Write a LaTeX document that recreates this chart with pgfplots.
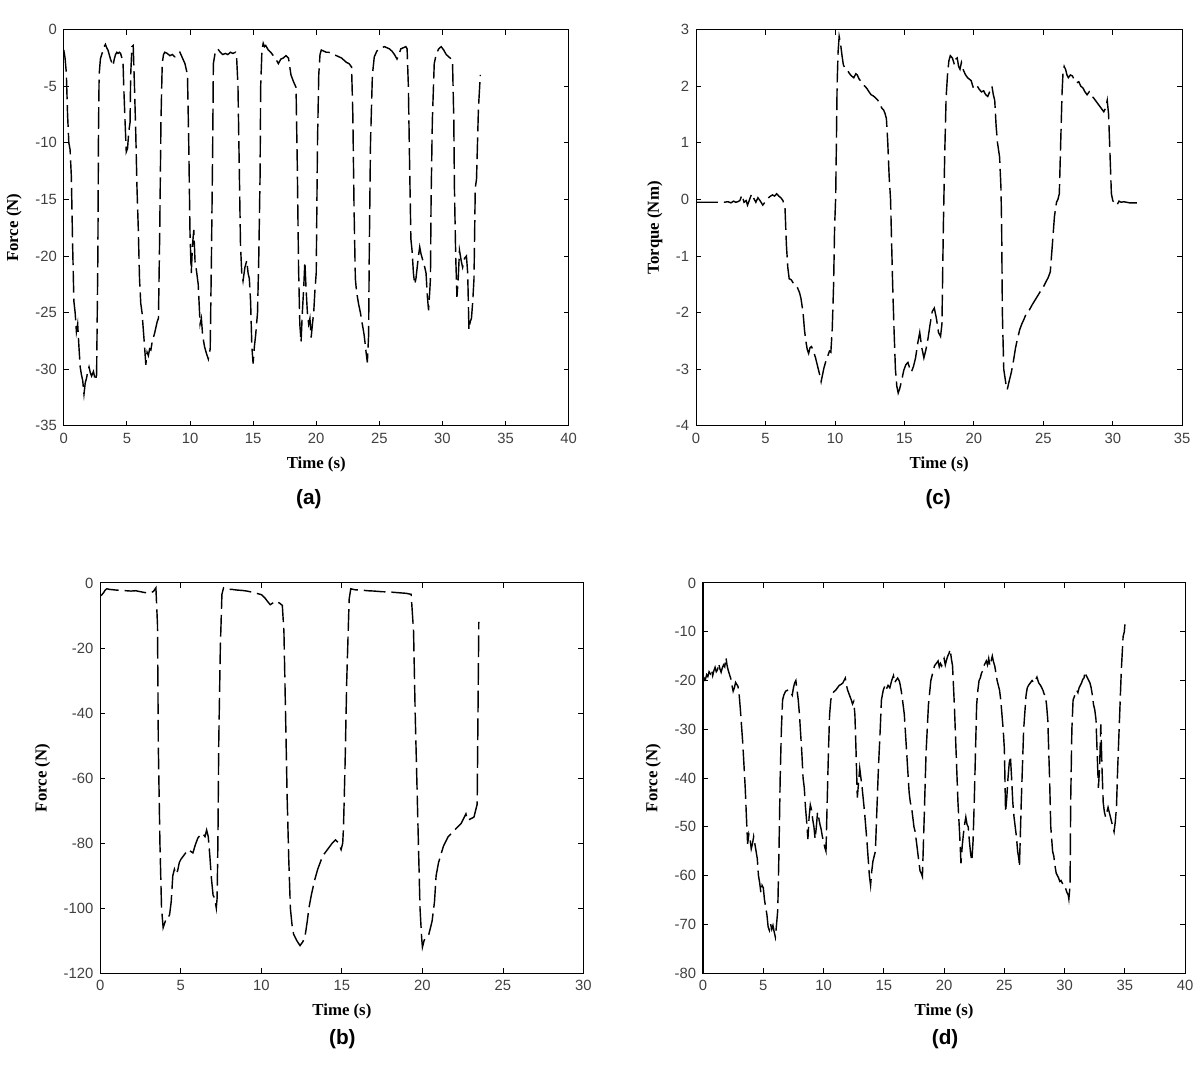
\documentclass[border=0pt]{standalone}
\usepackage{fontspec}
\setmainfont{Liberation Serif}
\newfontfamily\arial{Liberation Sans}
\usepackage{pgfplots}
\pgfplotsset{compat=1.18}

\pgfplotsset{
  matfig/.style={
    scale only axis,
    anchor=south west,
    axis line style={line width=0.55pt},
    tick style={black, line width=0.45pt},
    major tick length=2.6pt,
    tick label style={font=\arial\fontsize{7.5}{9}\selectfont, text=black!75},
    /pgf/number format/assume math mode=true,
    label style={font=\bfseries\fontsize{8.5}{10}\selectfont},
    xlabel={Time (s)},
  },
  sig/.style={black, no markers, line width=0.72pt, dash pattern=on 11pt off 3pt},
}

\begin{document}
\begin{tikzpicture}
\path (0pt,0pt) rectangle (600pt,539pt);

% (a)
\begin{axis}[matfig, at={(27.5pt,323.5pt)}, width=255.5pt, height=200.5pt,
  xmin=0, xmax=40, ymin=-35, ymax=0,
  xtick={0,5,...,40}, ytick={-35,-30,...,0},
  ylabel={Force (N)}]
\addplot[sig] coordinates {
(0,-1.8)(0.1,-2.5)(0.2,-3.8)(0.3,-7.5)(0.4,-10)(0.5,-10.6)(0.6,-13)(0.7,-19)(0.8,-24)(0.9,-25)
(1.0,-26.7)(1.1,-26)(1.2,-28)(1.3,-29.8)(1.4,-30.5)(1.5,-31)(1.6,-32.2)(1.7,-31.2)(1.8,-30.8)(1.9,-30.2)
(2.0,-29.8)(2.1,-30.3)(2.2,-30.6)(2.35,-30.2)(2.5,-31)(2.6,-30.5)(2.7,-20)(2.75,-9)(2.8,-4)(2.9,-2.6)
(3.0,-2.2)(3.1,-1.9)(3.2,-1.5)(3.3,-1.3)(3.4,-1.6)(3.5,-1.8)(3.6,-2.2)(3.7,-2.6)(3.8,-2.9)(3.9,-3.2)
(4.0,-2.6)(4.1,-2.2)(4.2,-2.0)(4.3,-2.1)(4.4,-2.0)(4.5,-2.1)(4.6,-2.5)(4.7,-3.1)(4.75,-5)(4.85,-8)
(4.95,-10.8)(5.05,-10.5)(5.15,-9)(5.25,-8.2)(5.3,-4)(5.4,-1.5)(5.5,-1.4)(5.6,-5)(5.7,-9)(5.8,-14)
(5.9,-17.5)(6.0,-22)(6.1,-24.2)(6.2,-25)(6.3,-26.5)(6.4,-28)(6.5,-29.6)(6.6,-28.5)(6.7,-28.8)(6.8,-28.2)
(6.9,-28.3)(7.0,-27.6)(7.1,-27.2)(7.2,-26.8)(7.3,-26.3)(7.4,-25.8)(7.5,-25.5)(7.6,-18)(7.7,-8)(7.8,-3)
(7.9,-2.2)(8.0,-2.0)(8.2,-2.1)(8.4,-2.3)(8.6,-2.2)(8.8,-2.4)(9.0,-2.3)(9.2,-2.0)(9.4,-2.5)(9.6,-3.0)
(9.8,-4.0)(9.9,-10)(10.0,-18)(10.1,-21.5)(10.2,-19)(10.3,-17.7)(10.4,-20.5)(10.5,-21.2)(10.65,-22.5)(10.8,-26)
(10.9,-25.5)(11.0,-27)(11.15,-28)(11.3,-28.6)(11.45,-29.1)(11.6,-28.2)(11.7,-20)(11.8,-10)(11.85,-3)(12.0,-2.0)
(12.2,-1.7)(12.4,-2.0)(12.6,-2.2)(12.8,-2.1)(13.0,-2.2)(13.2,-2.0)(13.4,-2.1)(13.6,-2.0)(13.7,-2.6)(13.8,-5)
(13.9,-12)(14.0,-19)(14.1,-21.5)(14.2,-22.2)(14.35,-21)(14.5,-20.4)(14.6,-21.5)(14.7,-22)(14.8,-24)(14.9,-28)
(15.0,-29.5)(15.1,-28)(15.2,-27)(15.35,-25)(15.45,-20)(15.55,-13)(15.6,-5)(15.7,-1.8)(15.8,-1.2)(15.9,-1.5)
(16.0,-1.4)(16.2,-1.8)(16.4,-2.0)(16.6,-2.3)(16.8,-2.6)(17.0,-3.0)(17.2,-2.6)(17.4,-2.5)(17.6,-2.3)(17.8,-2.5)
(18.0,-4.0)(18.2,-4.6)(18.4,-5.1)(18.5,-12)(18.6,-21)(18.7,-26)(18.8,-27.6)(18.9,-25)(19.0,-23)(19.1,-20.5)
(19.2,-23)(19.3,-25)(19.4,-26)(19.5,-25.5)(19.6,-27.2)(19.7,-26)(19.8,-25)(19.9,-23)(20.0,-21.5)(20.1,-10)
(20.2,-4)(20.3,-2.2)(20.4,-1.8)(20.6,-1.9)(20.8,-2.0)(21.0,-2.0)(21.2,-2.1)(21.4,-2.2)(21.6,-2.3)(21.8,-2.4)
(22.0,-2.5)(22.2,-2.7)(22.4,-2.9)(22.6,-3.0)(22.8,-3.3)(22.9,-7.5)(23.0,-16)(23.1,-22)(23.2,-23.2)(23.35,-24.2)
(23.5,-25)(23.65,-26)(23.8,-27)(23.95,-28.5)(24.05,-29.4)(24.15,-27)(24.2,-20)(24.3,-10)(24.45,-4)(24.6,-2.4)
(24.8,-1.9)(25.0,-1.7)(25.2,-1.6)(25.4,-1.5)(25.6,-1.6)(25.8,-1.7)(26.0,-1.9)(26.2,-2.2)(26.4,-2.6)(26.55,-2.2)
(26.7,-1.7)(26.9,-1.6)(27.1,-1.5)(27.2,-1.7)(27.3,-5)(27.4,-12)(27.5,-18.5)(27.6,-19.6)(27.7,-21.5)(27.8,-22.5)
(27.9,-22)(28.0,-21)(28.1,-20)(28.2,-19.2)(28.3,-19.8)(28.4,-20.2)(28.5,-20.6)(28.6,-21)(28.7,-21.5)(28.8,-23.5)
(28.9,-24.8)(29.0,-23)(29.05,-22)(29.1,-15)(29.2,-8)(29.35,-3)(29.5,-2.2)(29.7,-1.7)(29.9,-1.5)(30.1,-1.8)
(30.3,-2.2)(30.5,-2.4)(30.7,-2.6)(30.8,-2.9)(30.9,-8)(30.95,-14)(31.05,-20)(31.15,-23.6)(31.25,-22)(31.35,-19.5)
(31.5,-20.5)(31.6,-21)(31.75,-20.2)(31.9,-20)(32.0,-21.5)(32.1,-26.5)(32.2,-25.8)(32.3,-25.5)(32.4,-24)(32.5,-22)
(32.6,-14)(32.7,-13.2)(32.85,-7)(33.0,-4)
};
\end{axis}

% (c)
\begin{axis}[matfig, at={(347.5pt,323.5pt)}, width=246pt, height=200.5pt,
  xmin=0, xmax=35, ymin=-4, ymax=3,
  xtick={0,5,...,35}, ytick={-4,-3,...,3},
  ylabel={Torque (Nm)}]
\addplot[sig] coordinates {
(0,-0.05)(1.3,-0.05)(2.0,-0.05)(2.3,-0.04)(2.5,-0.06)(2.7,-0.03)(2.85,-0.05)(3.0,-0.04)(3.15,-0.02)(3.3,0.08)
(3.45,-0.05)(3.6,-0.02)(3.7,-0.1)(3.85,0.0)(4.0,0.1)(4.15,0.02)(4.3,-0.05)(4.45,0.03)(4.6,-0.02)(4.8,-0.1)
(4.95,-0.05)(5.1,0.0)(5.3,0.05)(5.5,0.08)(5.65,0.06)(5.8,0.1)(5.95,0.06)(6.1,0.03)(6.25,-0.02)(6.4,-0.15)
(6.5,-0.8)(6.6,-1.2)(6.7,-1.4)(6.85,-1.42)(7.0,-1.48)(7.15,-1.5)(7.3,-1.56)(7.45,-1.65)(7.55,-1.75)(7.7,-2.0)
(7.8,-2.3)(7.9,-2.5)(8.0,-2.65)(8.1,-2.72)(8.2,-2.62)(8.3,-2.6)(8.4,-2.65)(8.5,-2.72)(8.6,-2.8)(8.75,-2.95)
(8.9,-3.1)(9.0,-3.22)(9.1,-3.1)(9.2,-2.98)(9.35,-2.85)(9.5,-2.75)(9.6,-2.68)(9.7,-2.7)(9.8,-2.3)(9.9,-1.5)
(9.97,-0.5)(10.05,0.05)(10.1,1.0)(10.15,2.0)(10.22,2.6)(10.3,2.88)(10.4,2.75)(10.5,2.55)(10.6,2.38)(10.75,2.3)
(10.9,2.28)(11.05,2.22)(11.2,2.18)(11.35,2.15)(11.5,2.22)(11.6,2.2)(11.75,2.12)(11.9,2.08)(12.0,2.03)(12.15,2.0)
(12.3,1.96)(12.45,1.9)(12.6,1.85)(12.75,1.83)(12.9,1.8)(13.05,1.76)(13.2,1.72)(13.35,1.62)(13.5,1.58)(13.6,1.52)
(13.7,1.43)(13.8,1.0)(13.9,0.4)(14.0,0.0)(14.08,-0.8)(14.15,-1.5)(14.25,-2.3)(14.35,-3.0)(14.45,-3.3)(14.55,-3.42)
(14.65,-3.35)(14.8,-3.2)(14.95,-3.02)(15.1,-2.92)(15.25,-2.88)(15.4,-3.0)(15.5,-3.05)(15.65,-2.95)(15.8,-2.8)(15.95,-2.55)
(16.1,-2.35)(16.25,-2.62)(16.4,-2.8)(16.55,-2.65)(16.7,-2.45)(16.85,-2.2)(17.0,-1.98)(17.15,-1.92)(17.3,-2.1)(17.45,-2.35)
(17.6,-2.42)(17.7,-2.2)(17.8,-0.5)(17.9,0.8)(18.0,1.8)(18.1,2.2)(18.2,2.45)(18.3,2.54)(18.45,2.5)(18.6,2.38)
(18.7,2.48)(18.8,2.5)(18.9,2.35)(19.0,2.3)(19.1,2.42)(19.25,2.28)(19.4,2.2)(19.55,2.15)(19.7,2.12)(19.8,2.1)
(19.95,1.98)(20.1,1.95)(20.25,2.0)(20.4,1.94)(20.55,1.9)(20.7,1.92)(20.85,1.85)(21.0,1.82)(21.1,1.88)(21.2,1.95)
(21.3,2.0)(21.4,1.85)(21.5,1.75)(21.6,1.3)(21.7,1.0)(21.85,0.75)(21.95,0.2)(22.0,-0.5)(22.05,-2.0)(22.15,-3.0)
(22.3,-3.25)(22.4,-3.36)(22.55,-3.2)(22.7,-3.05)(22.85,-2.85)(23.0,-2.62)(23.15,-2.45)(23.3,-2.3)(23.45,-2.2)(23.6,-2.12)
(23.8,-2.0)(24.0,-1.95)(24.2,-1.86)(24.4,-1.78)(24.6,-1.7)(24.8,-1.62)(25.0,-1.55)(25.2,-1.45)(25.35,-1.38)(25.5,-1.28)
(25.65,-0.8)(25.8,-0.3)(25.95,-0.05)(26.05,0.0)(26.15,0.1)(26.25,1.0)(26.35,1.9)(26.42,2.25)(26.5,2.35)(26.6,2.3)
(26.7,2.2)(26.8,2.15)(26.95,2.2)(27.1,2.18)(27.25,2.1)(27.4,2.06)(27.55,2.08)(27.7,2.0)(27.85,1.97)(28.0,1.9)
(28.15,1.85)(28.3,1.9)(28.45,1.82)(28.6,1.8)(28.75,1.75)(28.9,1.7)(29.05,1.65)(29.2,1.6)(29.35,1.55)(29.5,1.62)
(29.6,1.75)(29.7,1.5)(29.8,0.8)(29.9,0.1)(30.0,-0.02)(30.15,-0.08)(30.3,-0.1)(30.45,-0.03)(30.6,-0.05)(30.8,-0.04)
(31.2,-0.06)(32.0,-0.06)
};
\end{axis}

% (b)
\begin{axis}[matfig, at={(46pt,46.5pt)}, width=244.5pt, height=197.5pt,
  xmin=0, xmax=30, ymin=-120, ymax=0,
  xtick={0,5,...,30}, ytick={-120,-100,...,0},
  ylabel={Force (N)}]
\addplot[sig] coordinates {
(0,-4)(0.1,-3.6)(0.2,-3)(0.3,-2.2)(0.4,-1.8)(0.6,-2)(0.8,-2.1)(1.0,-2.2)(1.3,-2.3)(1.6,-2.4)
(1.9,-2.5)(2.2,-2.4)(2.5,-2.7)(2.8,-3)(3.1,-3.1)(3.3,-2.6)(3.45,-1.5)(3.55,-13)(3.6,-50)(3.7,-80)
(3.8,-100)(3.9,-106)(4.0,-104.5)(4.1,-103)(4.2,-103)(4.3,-102)(4.4,-98)(4.5,-90)(4.6,-88)(4.7,-89.5)
(4.8,-88.5)(4.9,-86)(5.0,-85)(5.15,-84)(5.3,-83)(5.45,-82)(5.6,-82.5)(5.75,-83)(5.9,-80.5)(6.05,-78.5)
(6.2,-77.5)(6.35,-77)(6.5,-78)(6.6,-76)(6.7,-78)(6.8,-84)(6.9,-91)(7.0,-96)(7.1,-97)(7.2,-100)
(7.25,-97)(7.3,-80)(7.35,-50)(7.45,-20)(7.55,-3.5)(7.65,-1.5)(7.9,-2)(8.2,-2)(8.5,-2.2)(8.8,-2.3)
(9.1,-2.5)(9.4,-2.8)(9.7,-3.2)(10.0,-3.6)(10.2,-4.5)(10.4,-5.8)(10.55,-6.7)(10.7,-6.2)(10.85,-5.6)(11.0,-5.8)
(11.15,-6.3)(11.3,-6.9)(11.4,-15)(11.5,-40)(11.6,-66)(11.7,-85)(11.8,-100)(11.9,-105)(12.0,-108)(12.2,-110)
(12.4,-111.5)(12.55,-110.5)(12.7,-109)(12.85,-104)(12.95,-100)(13.1,-96)(13.3,-91.5)(13.5,-88)(13.8,-84)(14.1,-82)
(14.4,-80)(14.6,-79)(14.8,-80)(14.95,-82)(15.05,-80)(15.1,-75)(15.2,-55)(15.3,-30)(15.45,-5)(15.55,-1.8)
(15.8,-2.1)(16.2,-2.2)(16.6,-2.4)(17.0,-2.5)(17.5,-2.7)(18.0,-2.8)(18.5,-3)(19.0,-3.2)(19.3,-3.5)(19.45,-15)
(19.55,-40)(19.7,-70)(19.85,-100)(19.95,-109)(20.0,-112)(20.1,-110)(20.2,-109)(20.4,-108)(20.6,-104)(20.75,-98)
(20.85,-90)(21.0,-86)(21.3,-81)(21.6,-78)(22.0,-76)(22.4,-74)(22.7,-71)(22.8,-73)(23.0,-72.5)(23.2,-72)
(23.4,-68)(23.45,-40)(23.5,-12)
};
\end{axis}

% (d)
\begin{axis}[matfig, at={(351pt,46.5pt)}, width=244pt, height=197.5pt,
  xmin=0, xmax=40, ymin=-80, ymax=0,
  xtick={0,5,...,40}, ytick={-80,-70,...,0},
  ylabel={Force (N)}]
\addplot[sig] coordinates {
(0,-20.5)(0.1,-19.5)(0.2,-19.8)(0.3,-18.8)(0.4,-19.2)(0.5,-18.2)(0.6,-18.6)(0.7,-17.8)(0.8,-19)(0.9,-18)
(1.0,-17.3)(1.1,-18.2)(1.2,-17.8)(1.3,-16.5)(1.4,-17.6)(1.5,-18.3)(1.6,-17.4)(1.7,-16.8)(1.8,-17.2)(1.9,-15.3)
(2.0,-17)(2.1,-18)(2.2,-18.8)(2.3,-19.6)(2.4,-21)(2.5,-22.2)(2.6,-21.5)(2.7,-20.4)(2.8,-20.8)(2.9,-21.2)
(3.0,-23)(3.1,-26)(3.2,-29.5)(3.3,-33)(3.4,-37.5)(3.5,-42)(3.6,-48)(3.7,-53.5)(3.8,-51.5)(3.9,-52.5)
(4.0,-54.5)(4.1,-53.5)(4.2,-52)(4.3,-53.5)(4.4,-55)(4.5,-56.5)(4.6,-60)(4.7,-61.5)(4.8,-63.5)(4.9,-62)
(5.0,-62.5)(5.1,-65)(5.2,-66.5)(5.3,-68)(5.4,-70.5)(5.5,-71.2)(5.6,-69.8)(5.7,-71)(5.8,-70.2)(5.9,-71.5)
(6.0,-72.6)(6.1,-70)(6.2,-67)(6.3,-55)(6.4,-40)(6.5,-30)(6.6,-24)(6.7,-23)(6.85,-22.2)(7.0,-22)
(7.15,-22.6)(7.3,-22.5)(7.4,-23)(7.5,-21.5)(7.6,-20.5)(7.7,-20)(7.8,-22)(7.9,-24)(8.0,-27)(8.1,-31)
(8.2,-35)(8.3,-40)(8.4,-42)(8.5,-46)(8.6,-49)(8.7,-52.5)(8.8,-48)(8.9,-45.5)(9.0,-46.5)(9.1,-48.5)
(9.2,-50)(9.3,-52.5)(9.4,-50)(9.5,-47)(9.6,-48.2)(9.7,-49.5)(9.8,-50.5)(9.9,-52)(10.0,-53)(10.1,-54.2)
(10.2,-55)(10.3,-45)(10.4,-35)(10.5,-27)(10.6,-24)(10.7,-23)(10.85,-22.3)(11.0,-22)(11.15,-21.5)(11.3,-21)
(11.45,-20.8)(11.6,-20.5)(11.7,-20)(11.8,-19.5)(11.9,-21)(12.0,-22)(12.15,-23)(12.3,-24)(12.4,-24.8)(12.5,-24.3)
(12.6,-27)(12.7,-35)(12.8,-44)(12.9,-41)(13.0,-38)(13.1,-40)(13.2,-42)(13.3,-44.5)(13.4,-47)(13.5,-50)
(13.6,-53)(13.7,-56.5)(13.8,-60)(13.9,-62)(14.0,-59)(14.1,-57)(14.2,-56)(14.3,-55)(14.4,-48)(14.55,-38)
(14.7,-30)(14.8,-24)(14.95,-22)(15.1,-21)(15.2,-21.8)(15.35,-21)(15.5,-21.5)(15.65,-20)(15.8,-19)(15.9,-20.5)
(16.0,-20)(16.15,-19.5)(16.3,-20.2)(16.4,-21.5)(16.5,-23)(16.6,-25)(16.7,-27)(16.8,-31)(16.9,-35)(17.0,-39)
(17.1,-43)(17.2,-45)(17.3,-46)(17.4,-48)(17.5,-50)(17.6,-51)(17.7,-53)(17.8,-55)(17.9,-57)(18.0,-59)
(18.1,-59.5)(18.2,-60.2)(18.35,-48)(18.5,-35)(18.7,-25)(18.9,-20)(19.05,-18.5)(19.2,-17)(19.35,-16.5)(19.5,-16)
(19.6,-17.2)(19.7,-16.5)(19.8,-17)(19.9,-16.2)(20.0,-15.5)(20.1,-16.8)(20.2,-15.8)(20.3,-15)(20.4,-14.5)(20.5,-13.6)
(20.6,-15.5)(20.7,-17)(20.85,-25)(21.0,-35)(21.15,-45)(21.3,-52)(21.4,-57.5)(21.5,-54)(21.6,-51.5)(21.7,-49.5)
(21.8,-48)(21.9,-49.5)(22.0,-50)(22.1,-53)(22.2,-55.5)(22.3,-57)(22.4,-53)(22.5,-45)(22.6,-35)(22.7,-25)
(22.8,-22)(22.9,-20)(23.0,-19.5)(23.1,-18.5)(23.2,-18)(23.3,-17)(23.4,-16.5)(23.5,-16)(23.6,-16.8)(23.7,-15.5)
(23.8,-17)(23.9,-16)(24.0,-15)(24.1,-16.2)(24.2,-17)(24.3,-18.5)(24.4,-20)(24.5,-21)(24.6,-22)(24.7,-24)
(24.8,-27)(24.9,-30)(25.0,-34)(25.1,-47)(25.2,-44)(25.3,-40)(25.4,-37)(25.5,-35.5)(25.6,-40)(25.7,-45)
(25.8,-48)(25.9,-50)(26.0,-52)(26.1,-55)(26.2,-56.5)(26.25,-58.2)(26.4,-45)(26.6,-30)(26.8,-23)(26.9,-21.5)
(27.0,-21)(27.15,-20.5)(27.3,-20)(27.45,-20.5)(27.6,-19.8)(27.7,-19.3)(27.85,-20.5)(28.0,-21)(28.1,-21.5)(28.2,-22)
(28.3,-22.8)(28.4,-23)(28.5,-25)(28.6,-28)(28.75,-40)(28.85,-50)(29.0,-55)(29.1,-56)(29.2,-58)(29.3,-59.5)
(29.4,-60)(29.5,-60.5)(29.6,-61.2)(29.7,-61)(29.8,-61.5)(29.9,-62)(30.0,-62)(30.1,-62.8)(30.2,-63.5)(30.3,-64)
(30.35,-64.8)(30.45,-62)(30.5,-45)(30.6,-30)(30.7,-24)(30.85,-23)(31.0,-22)(31.1,-22.5)(31.2,-21.5)(31.3,-21)
(31.4,-20.5)(31.5,-19.8)(31.6,-19.5)(31.7,-18.2)(31.8,-19)(31.9,-19.5)(32.0,-20)(32.1,-20.5)(32.2,-21.5)(32.3,-23)
(32.4,-25)(32.5,-26)(32.6,-28)(32.7,-35)(32.8,-42)(32.9,-38)(33.0,-29)(33.1,-38)(33.2,-45)(33.3,-47)
(33.4,-48)(33.5,-47)(33.6,-46)(33.7,-47)(33.8,-48)(33.9,-49)(34.0,-50)(34.1,-51)(34.2,-49)(34.3,-46)
(34.4,-38)(34.55,-28)(34.7,-18)(34.85,-11)(34.95,-10)(35.0,-8.5)
};
\end{axis}

\node[font=\arial\bfseries\fontsize{10.5}{12}\selectfont] at (151.5pt,286.5pt) {(a)};
\node[font=\arial\bfseries\fontsize{10.5}{12}\selectfont] at (470pt,286.5pt) {(c)};
\node[font=\arial\bfseries\fontsize{10.5}{12}\selectfont] at (168.5pt,13pt) {(b)};
\node[font=\arial\bfseries\fontsize{10.5}{12}\selectfont] at (473.5pt,13pt) {(d)};
\end{tikzpicture}
\end{document}
